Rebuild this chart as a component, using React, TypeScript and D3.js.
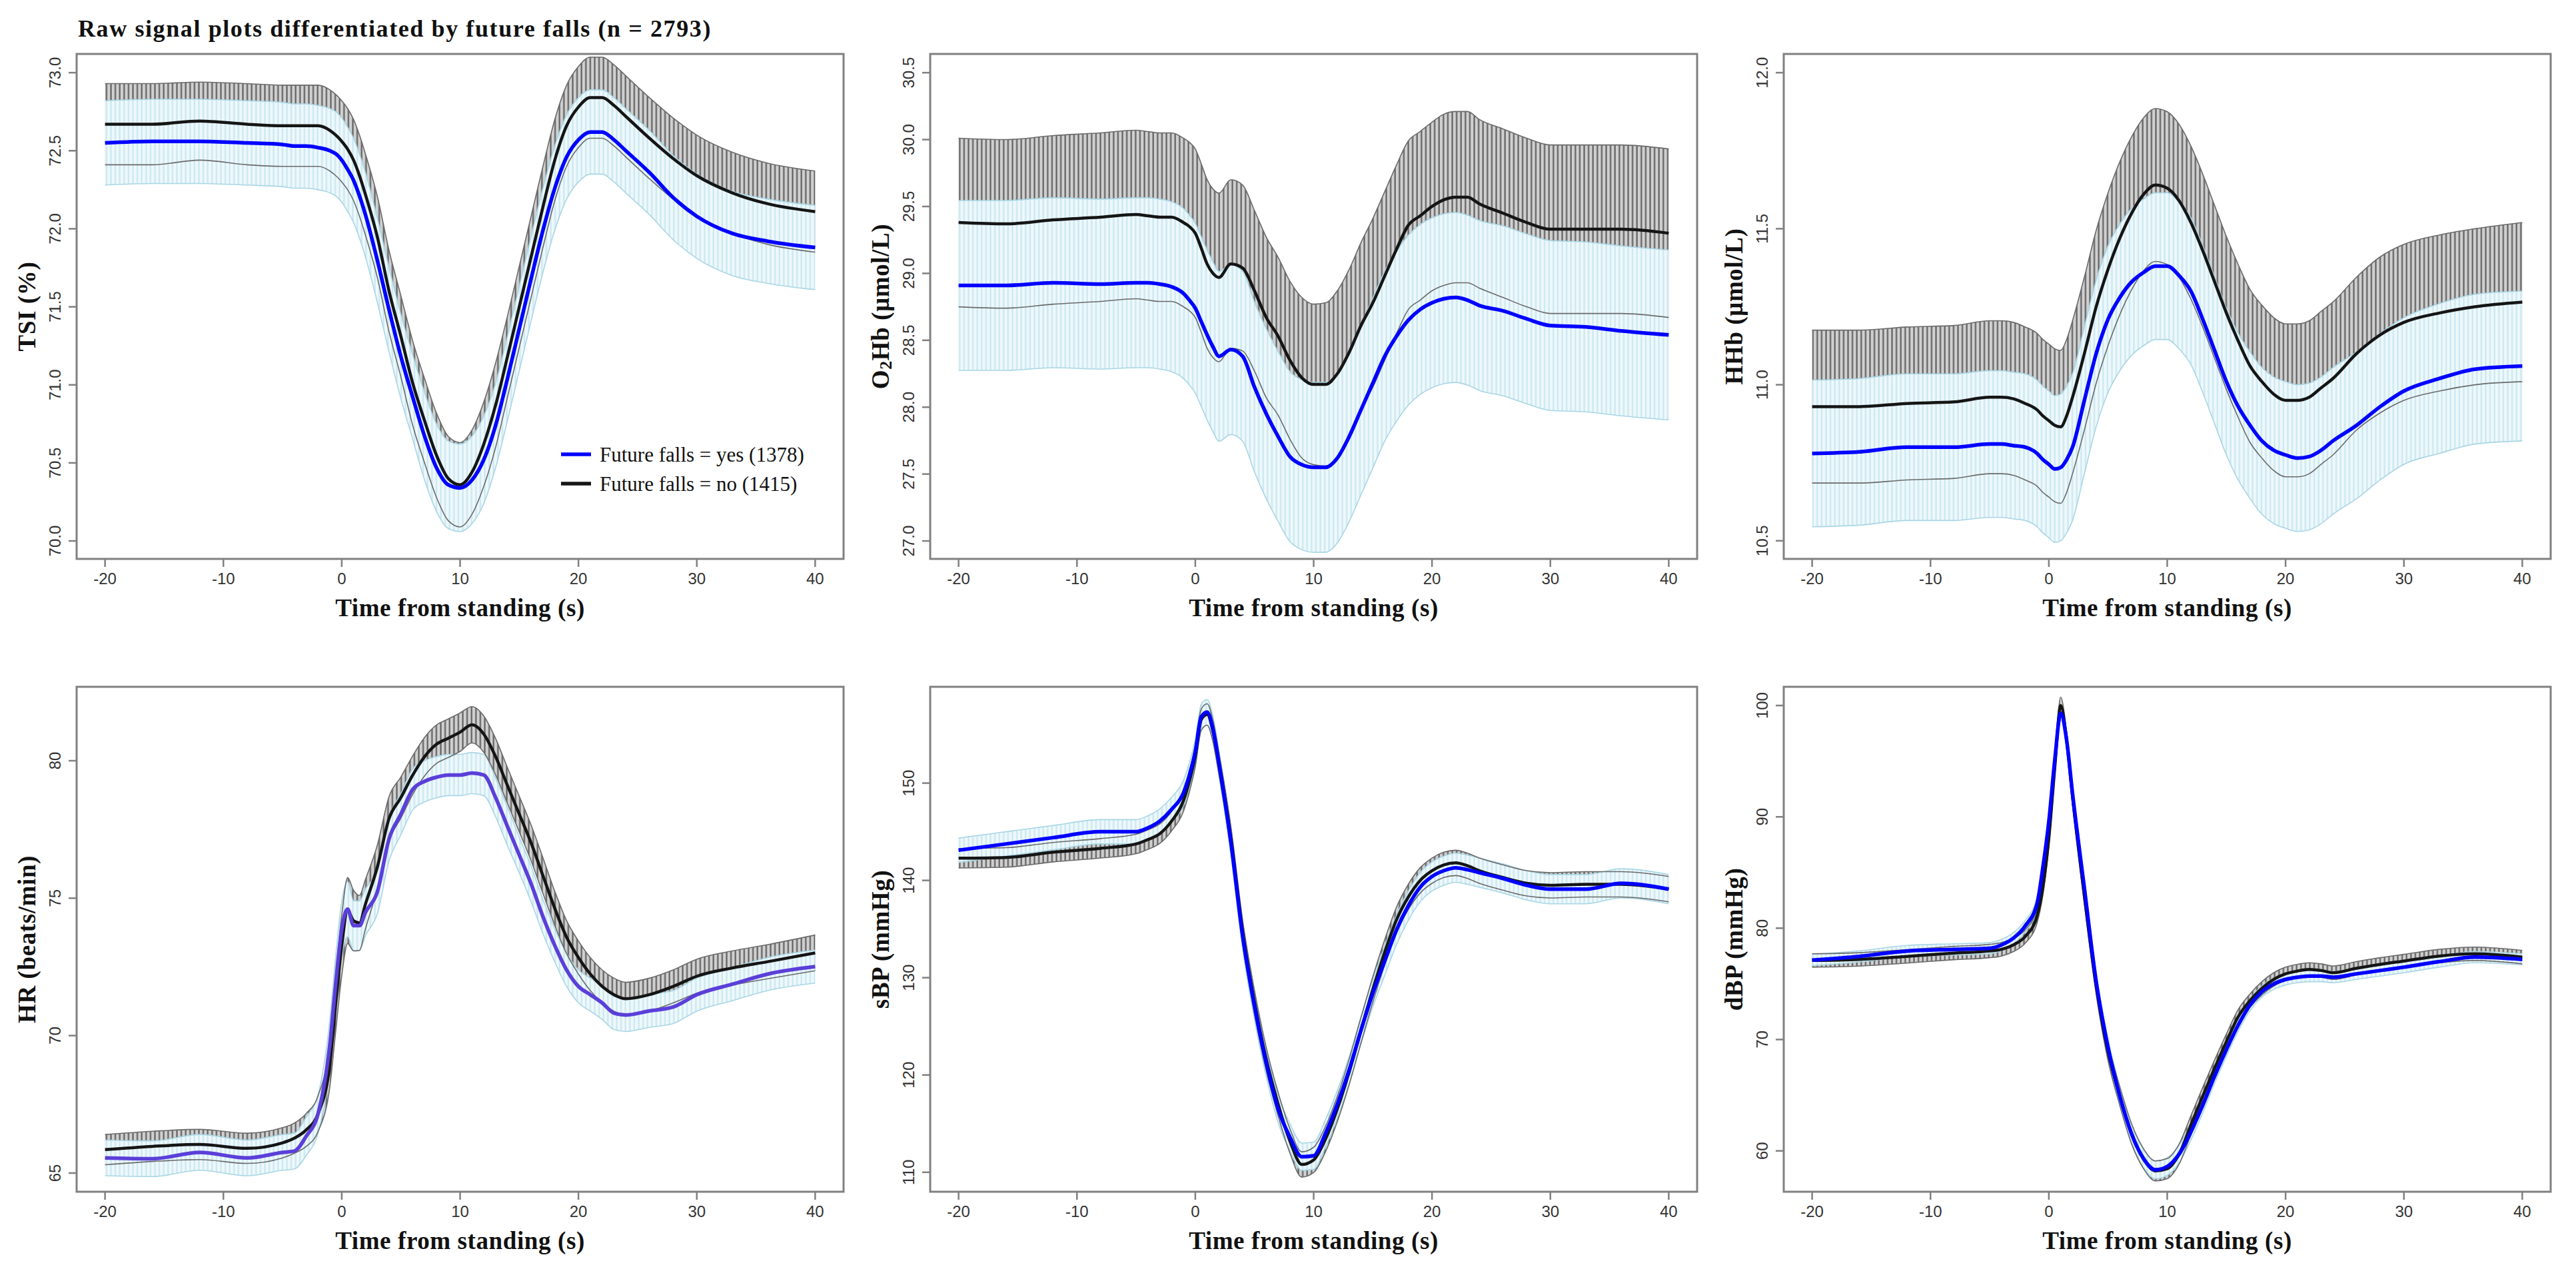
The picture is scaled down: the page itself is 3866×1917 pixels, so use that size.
import * as d3 from 'd3';
import { useEffect, useRef } from 'react';

// shared time grid (s from standing)
const time = [-20, -16, -12, -8, -5, -4, -3, -2, -1, -0.5, 0, 0.5, 1, 1.5, 2, 3, 4, 5, 6, 7, 8, 9, 10, 11, 12, 13, 14, 15, 16, 17, 18, 19, 20, 21, 22, 23, 24, 26, 28, 30, 33, 36, 40];
const xTicks = [-20, -10, 0, 10, 20, 30, 40];

// TSI (%)
const tsiNo = [72.67, 72.67, 72.69, 72.67, 72.66, 72.66, 72.66, 72.66, 72.63, 72.6, 72.56, 72.51, 72.44, 72.34, 72.22, 71.95, 71.6, 71.31, 71.01, 70.77, 70.55, 70.4, 70.36, 70.44, 70.62, 70.87, 71.18, 71.5, 71.82, 72.14, 72.44, 72.66, 72.78, 72.84, 72.84, 72.79, 72.72, 72.58, 72.45, 72.34, 72.23, 72.16, 72.11];
const tsiNoHw = [0.26, 0.26, 0.25, 0.26, 0.26, 0.26, 0.26, 0.26, 0.26, 0.26, 0.26, 0.26, 0.26, 0.26, 0.26, 0.26, 0.26, 0.26, 0.27, 0.27, 0.27, 0.27, 0.27, 0.27, 0.27, 0.27, 0.26, 0.26, 0.26, 0.26, 0.26, 0.26, 0.26, 0.26, 0.26, 0.26, 0.26, 0.26, 0.26, 0.26, 0.26, 0.26, 0.26];
const tsiYes = [72.55, 72.56, 72.56, 72.55, 72.54, 72.53, 72.53, 72.52, 72.5, 72.48, 72.44, 72.38, 72.31, 72.21, 72.09, 71.8, 71.48, 71.18, 70.92, 70.67, 70.47, 70.36, 70.34, 70.39, 70.52, 70.74, 71.04, 71.36, 71.68, 71.99, 72.26, 72.46, 72.57, 72.62, 72.62, 72.57, 72.5, 72.36, 72.2, 72.08, 71.97, 71.92, 71.88];
const tsiYesHw = [0.27, 0.27, 0.27, 0.27, 0.27, 0.27, 0.27, 0.27, 0.27, 0.27, 0.27, 0.27, 0.27, 0.27, 0.27, 0.27, 0.27, 0.27, 0.27, 0.28, 0.28, 0.28, 0.28, 0.28, 0.28, 0.27, 0.27, 0.27, 0.27, 0.27, 0.27, 0.27, 0.27, 0.27, 0.27, 0.27, 0.27, 0.27, 0.27, 0.27, 0.27, 0.27, 0.27];

// O2Hb (umol/L)
const o2No = [29.38, 29.37, 29.4, 29.42, 29.44, 29.43, 29.42, 29.42, 29.38, 29.35, 29.3, 29.19, 29.07, 29.0, 28.97, 29.07, 29.04, 28.87, 28.67, 28.53, 28.35, 28.22, 28.17, 28.17, 28.25, 28.41, 28.61, 28.78, 28.98, 29.18, 29.36, 29.43, 29.5, 29.55, 29.57, 29.57, 29.52, 29.45, 29.38, 29.33, 29.33, 29.33, 29.3];
const o2NoHw = [0.63, 0.63, 0.63, 0.63, 0.63, 0.63, 0.63, 0.63, 0.63, 0.63, 0.63, 0.63, 0.63, 0.63, 0.63, 0.63, 0.62, 0.6, 0.6, 0.59, 0.59, 0.6, 0.6, 0.61, 0.62, 0.62, 0.62, 0.63, 0.63, 0.63, 0.63, 0.63, 0.63, 0.64, 0.64, 0.64, 0.63, 0.63, 0.63, 0.63, 0.63, 0.63, 0.63];
const o2Yes = [28.91, 28.91, 28.93, 28.92, 28.93, 28.93, 28.92, 28.9, 28.85, 28.8, 28.74, 28.64, 28.54, 28.45, 28.38, 28.43, 28.38, 28.15, 27.95, 27.78, 27.63, 27.57, 27.55, 27.55, 27.62, 27.78, 27.98, 28.18, 28.38, 28.53, 28.65, 28.73, 28.78, 28.81, 28.82, 28.8, 28.76, 28.72, 28.66, 28.61, 28.6, 28.57, 28.54];
const o2YesHw = [0.635, 0.635, 0.635, 0.635, 0.635, 0.635, 0.635, 0.635, 0.635, 0.635, 0.635, 0.635, 0.635, 0.635, 0.635, 0.635, 0.635, 0.635, 0.635, 0.635, 0.635, 0.635, 0.635, 0.635, 0.635, 0.635, 0.635, 0.635, 0.635, 0.635, 0.635, 0.635, 0.635, 0.635, 0.635, 0.635, 0.635, 0.635, 0.635, 0.635, 0.635, 0.635, 0.635];

// HHb (umol/L)
const hhbNo = [10.93, 10.93, 10.94, 10.945, 10.96, 10.96, 10.955, 10.94, 10.92, 10.9, 10.885, 10.87, 10.865, 10.9, 10.96, 11.1, 11.25, 11.37, 11.47, 11.55, 11.61, 11.64, 11.63, 11.59, 11.52, 11.43, 11.33, 11.23, 11.14, 11.06, 11.01, 10.97, 10.95, 10.95, 10.96, 10.99, 11.02, 11.1, 11.16, 11.2, 11.23, 11.25, 11.265];
const hhbNoHw = [0.245, 0.245, 0.245, 0.245, 0.245, 0.245, 0.245, 0.245, 0.245, 0.245, 0.245, 0.245, 0.245, 0.245, 0.245, 0.245, 0.245, 0.245, 0.245, 0.245, 0.245, 0.245, 0.245, 0.245, 0.245, 0.245, 0.245, 0.245, 0.245, 0.245, 0.245, 0.245, 0.245, 0.245, 0.245, 0.245, 0.245, 0.245, 0.25, 0.25, 0.25, 0.25, 0.255];
const hhbYes = [10.78, 10.785, 10.8, 10.8, 10.81, 10.81, 10.805, 10.8, 10.78, 10.76, 10.745, 10.73, 10.735, 10.76, 10.8, 10.95, 11.1, 11.21, 11.28, 11.33, 11.36, 11.38, 11.38, 11.35, 11.3, 11.21, 11.11, 11.01, 10.93, 10.87, 10.82, 10.79, 10.775, 10.765, 10.77, 10.79, 10.82, 10.87, 10.93, 10.98, 11.02, 11.05, 11.06];
const hhbYesHw = [0.235, 0.235, 0.235, 0.235, 0.235, 0.235, 0.235, 0.235, 0.235, 0.235, 0.235, 0.235, 0.235, 0.235, 0.235, 0.235, 0.235, 0.235, 0.235, 0.235, 0.235, 0.235, 0.235, 0.235, 0.235, 0.235, 0.235, 0.235, 0.235, 0.235, 0.235, 0.235, 0.235, 0.235, 0.235, 0.235, 0.235, 0.235, 0.235, 0.235, 0.24, 0.24, 0.24];

// HR (beats/min)
const hrNo = [65.85, 65.97, 66.04, 65.9, 66.1, 66.27, 66.57, 67.16, 68.96, 71.2, 73.28, 74.55, 74.18, 74.1, 74.78, 76.12, 77.9, 78.66, 79.48, 80.15, 80.6, 80.82, 81.04, 81.31, 80.97, 80.15, 79.1, 78.06, 77.01, 75.82, 74.63, 73.58, 72.84, 72.24, 71.79, 71.49, 71.34, 71.49, 71.79, 72.16, 72.46, 72.69, 73.01];
const hrNoHw = [0.55, 0.55, 0.55, 0.55, 0.55, 0.55, 0.6, 0.65, 0.8, 1.0, 1.1, 1.2, 1.1, 1.0, 0.9, 0.8, 0.8, 0.75, 0.7, 0.7, 0.7, 0.7, 0.7, 0.66, 0.66, 0.66, 0.65, 0.65, 0.65, 0.65, 0.62, 0.6, 0.6, 0.6, 0.6, 0.6, 0.6, 0.6, 0.6, 0.62, 0.62, 0.62, 0.65];
const hrYes = [65.55, 65.52, 65.75, 65.55, 65.75, 65.8, 66.34, 67.16, 69.7, 71.94, 73.88, 74.6, 74.0, 74.0, 74.48, 75.22, 77.16, 78.06, 78.96, 79.25, 79.4, 79.48, 79.48, 79.55, 79.48, 78.66, 77.61, 76.57, 75.52, 74.33, 73.28, 72.39, 71.79, 71.49, 71.19, 70.82, 70.75, 70.9, 71.04, 71.49, 71.87, 72.24, 72.51];
const hrYesHw = [0.65, 0.65, 0.65, 0.65, 0.65, 0.65, 0.7, 0.7, 0.9, 1.0, 1.0, 1.0, 0.9, 0.9, 0.85, 0.8, 0.8, 0.75, 0.75, 0.75, 0.75, 0.75, 0.75, 0.75, 0.75, 0.7, 0.7, 0.65, 0.65, 0.62, 0.6, 0.6, 0.6, 0.6, 0.6, 0.6, 0.6, 0.6, 0.6, 0.6, 0.6, 0.6, 0.6];

// sBP (mmHg)
const sbpNo = [142.28, 142.36, 142.9, 143.3, 143.75, 144.2, 144.8, 146.1, 148.2, 150.2, 152.8, 156.5, 157.05, 155.3, 152.0, 144.4, 134.7, 127.5, 121.6, 117.0, 113.2, 110.8, 111.27, 113.4, 116.5, 120.3, 124.6, 128.8, 132.6, 135.95, 138.3, 140.0, 141.0, 141.6, 141.8, 141.5, 141.0, 140.3, 139.7, 139.5, 139.6, 139.6, 139.1];
const sbpNoHw = [1.0, 1.0, 1.0, 1.0, 1.0, 1.0, 1.0, 1.0, 1.1, 1.1, 1.1, 1.1, 1.1, 1.1, 1.1, 1.2, 1.2, 1.2, 1.2, 1.2, 1.25, 1.3, 1.3, 1.3, 1.3, 1.3, 1.3, 1.3, 1.3, 1.3, 1.3, 1.3, 1.3, 1.3, 1.3, 1.3, 1.3, 1.3, 1.3, 1.3, 1.3, 1.3, 1.3];
const sbpYes = [143.1, 143.75, 144.4, 145.0, 145.0, 145.4, 146.1, 147.3, 149.0, 150.8, 153.2, 156.8, 157.3, 155.5, 152.0, 144.0, 134.3, 127.1, 121.2, 116.5, 113.6, 111.6, 111.7, 114.0, 117.0, 120.5, 124.6, 128.4, 131.7, 134.9, 137.4, 139.3, 140.4, 141.0, 141.3, 141.1, 140.8, 140.2, 139.5, 139.1, 139.1, 139.7, 139.1];
const sbpYesHw = [1.25, 1.25, 1.25, 1.25, 1.25, 1.25, 1.25, 1.25, 1.3, 1.3, 1.3, 1.3, 1.3, 1.3, 1.3, 1.4, 1.4, 1.4, 1.4, 1.4, 1.4, 1.4, 1.4, 1.4, 1.4, 1.4, 1.4, 1.4, 1.5, 1.5, 1.5, 1.5, 1.5, 1.5, 1.5, 1.5, 1.5, 1.5, 1.5, 1.5, 1.5, 1.5, 1.5];

// dBP (mmHg)
const dbpNo = [77.1, 77.2, 77.47, 77.77, 77.95, 78.1, 78.5, 79.25, 81.1, 83.7, 88.1, 94.4, 100.0, 96.9, 91.8, 82.9, 74.8, 68.9, 64.9, 61.5, 59.3, 58.2, 58.4, 59.7, 62.3, 64.9, 67.4, 69.8, 72.05, 73.5, 74.6, 75.4, 75.9, 76.15, 76.3, 76.2, 76.0, 76.4, 76.75, 77.05, 77.5, 77.7, 77.4];
const dbpNoHw = [0.6, 0.6, 0.6, 0.6, 0.6, 0.6, 0.6, 0.6, 0.65, 0.7, 0.7, 0.7, 0.75, 0.7, 0.7, 0.7, 0.75, 0.8, 0.85, 0.9, 0.9, 0.9, 0.9, 0.9, 0.85, 0.8, 0.75, 0.7, 0.65, 0.6, 0.6, 0.6, 0.6, 0.6, 0.6, 0.6, 0.6, 0.6, 0.6, 0.6, 0.6, 0.6, 0.6];
const dbpYes = [77.14, 77.47, 77.95, 78.1, 78.2, 78.5, 79.1, 80.2, 82.2, 85.5, 89.6, 95.1, 99.3, 96.9, 92.1, 83.6, 75.2, 69.3, 64.9, 61.5, 59.3, 58.3, 58.6, 59.7, 61.7, 64.1, 66.7, 69.1, 71.3, 73.1, 74.3, 75.0, 75.4, 75.6, 75.7, 75.7, 75.6, 75.9, 76.2, 76.5, 77.0, 77.4, 77.2];
const dbpYesHw = [0.5, 0.5, 0.5, 0.5, 0.5, 0.5, 0.5, 0.5, 0.55, 0.6, 0.6, 0.6, 0.6, 0.6, 0.6, 0.65, 0.7, 0.75, 0.8, 0.8, 0.8, 0.8, 0.8, 0.8, 0.75, 0.7, 0.65, 0.6, 0.55, 0.5, 0.5, 0.5, 0.5, 0.5, 0.5, 0.5, 0.5, 0.5, 0.5, 0.5, 0.5, 0.5, 0.5];

const legendLabels = ['Future falls = yes (1378)', 'Future falls = no (1415)'];

interface Panel {
  label: string[];
  yTicks: number[];
  yDomain: [number, number];
  decimals: number;
  no: number[];
  noHw: number[];
  yes: number[];
  yesHw: number[];
  yesColor: string;
}

const panels: Panel[] = [
  { label: ['TSI (%)'], yTicks: [70, 70.5, 71, 71.5, 72, 72.5, 73], yDomain: [69.885, 73.12], decimals: 1, no: tsiNo, noHw: tsiNoHw, yes: tsiYes, yesHw: tsiYesHw, yesColor: '#0000ff' },
  { label: ['O', '2', 'Hb (\u03bcmol/L)'], yTicks: [27, 27.5, 28, 28.5, 29, 29.5, 30, 30.5], yDomain: [26.866, 30.64], decimals: 1, no: o2No, noHw: o2NoHw, yes: o2Yes, yesHw: o2YesHw, yesColor: '#0000ff' },
  { label: ['HHb (\u03bcmol/L)'], yTicks: [10.5, 11, 11.5, 12], yDomain: [10.442, 12.06], decimals: 1, no: hhbNo, noHw: hhbNoHw, yes: hhbYes, yesHw: hhbYesHw, yesColor: '#0000ff' },
  { label: ['HR (beats/min)'], yTicks: [65, 70, 75, 80], yDomain: [64.32, 82.69], decimals: 0, no: hrNo, noHw: hrNoHw, yes: hrYes, yesHw: hrYesHw, yesColor: '#5b3fd9' },
  { label: ['sBP (mmHg)'], yTicks: [110, 120, 130, 140, 150], yDomain: [108.0, 159.9], decimals: 0, no: sbpNo, noHw: sbpNoHw, yes: sbpYes, yesHw: sbpYesHw, yesColor: '#0000ff' },
  { label: ['dBP (mmHg)'], yTicks: [60, 70, 80, 90, 100], yDomain: [56.33, 101.68], decimals: 0, no: dbpNo, noHw: dbpNoHw, yes: dbpYes, yesHw: dbpYesHw, yesColor: '#0000ff' }
];

const WIDTH = 3866;
const HEIGHT = 1917;
const PANEL_W = 1151;
const PANEL_H = 758;
const LEFTS = [115, 1396, 2677];
const TOPS = [81, 1031];
const SERIF = "'Liberation Serif', 'Times New Roman', serif";
const SANS = "'Liberation Sans', Arial, sans-serif";
const AXIS_GREY = '#808080';

const App = () => {
  const ref = useRef<SVGSVGElement | null>(null);

  useEffect(() => {
    if (!ref.current) return;
    const svg = d3.select(ref.current);
    svg.selectAll('*').remove();

    const defs = svg.append('defs');
    const hatch = (id: string, bg: string, fg: string) => {
      const p = defs
        .append('pattern')
        .attr('id', id)
        .attr('patternUnits', 'userSpaceOnUse')
        .attr('width', 6.6)
        .attr('height', 20);
      p.append('rect').attr('width', 6.6).attr('height', 20).attr('fill', bg);
      p.append('rect').attr('x', 0.4).attr('width', 2.2).attr('height', 20).attr('fill', fg);
    };
    hatch('hatch-no', '#d0d0d0', '#606060');
    hatch('hatch-yes', '#eef8fb', '#cae7f1');

    svg
      .append('text')
      .attr('x', 117)
      .attr('y', 55)
      .attr('font-family', SERIF)
      .attr('font-weight', 'bold')
      .attr('font-size', 36)
      .attr('letter-spacing', 1.6)
      .attr('fill', '#111')
      .text('Raw signal plots differentiated by future falls (n = 2793)');

    panels.forEach((p, i) => {
      const left = LEFTS[i % 3];
      const top = TOPS[Math.floor(i / 3)];
      const x = d3.scaleLinear().domain([-22.4, 42.4]).range([left, left + PANEL_W]);
      const y = d3.scaleLinear().domain(p.yDomain).range([top + PANEL_H, top]);

      const g = svg.append('g');
      const clipId = `clip-${i}`;
      defs
        .append('clipPath')
        .attr('id', clipId)
        .append('rect')
        .attr('x', left)
        .attr('y', top)
        .attr('width', PANEL_W)
        .attr('height', PANEL_H);
      const plot = g.append('g').attr('clip-path', `url(#${clipId})`);

      const band = (m: number[], hw: number[]) =>
        d3
          .area<number>()
          .x((_, k) => x(time[k]))
          .y0((_, k) => y(m[k] - hw[k]))
          .y1((_, k) => y(m[k] + hw[k]))
          .curve(d3.curveMonotoneX)(m);
      const edge = (m: number[], hw: number[], sign: number) =>
        d3
          .line<number>()
          .x((_, k) => x(time[k]))
          .y((_, k) => y(m[k] + sign * hw[k]))
          .curve(d3.curveMonotoneX)(m);
      const mean = (m: number[]) =>
        d3
          .line<number>()
          .x((_, k) => x(time[k]))
          .y(d => y(d))
          .curve(d3.curveMonotoneX)(m);

      plot.append('path').attr('d', band(p.no, p.noHw)).attr('fill', 'url(#hatch-no)');
      plot.append('path').attr('d', band(p.yes, p.yesHw)).attr('fill', 'url(#hatch-yes)');
      [1, -1].forEach(s => {
        plot
          .append('path')
          .attr('d', edge(p.yes, p.yesHw, s))
          .attr('fill', 'none')
          .attr('stroke', '#a9d6e5')
          .attr('stroke-width', 1.6);
      });
      [1, -1].forEach(s => {
        plot
          .append('path')
          .attr('d', edge(p.no, p.noHw, s))
          .attr('fill', 'none')
          .attr('stroke', '#6a6a6a')
          .attr('stroke-width', 1.6);
      });
      plot
        .append('path')
        .attr('d', mean(p.no))
        .attr('fill', 'none')
        .attr('stroke', '#151515')
        .attr('stroke-width', 4.5)
        .attr('stroke-linejoin', 'round');
      plot
        .append('path')
        .attr('d', mean(p.yes))
        .attr('fill', 'none')
        .attr('stroke', p.yesColor)
        .attr('stroke-width', 5.5)
        .attr('stroke-linejoin', 'round');

      // box
      g.append('rect')
        .attr('x', left)
        .attr('y', top)
        .attr('width', PANEL_W)
        .attr('height', PANEL_H)
        .attr('fill', 'none')
        .attr('stroke', AXIS_GREY)
        .attr('stroke-width', 3);

      // x axis
      const bottom = top + PANEL_H;
      xTicks.forEach(t => {
        g.append('line')
          .attr('x1', x(t))
          .attr('x2', x(t))
          .attr('y1', bottom)
          .attr('y2', bottom + 12)
          .attr('stroke', AXIS_GREY)
          .attr('stroke-width', 2.5);
        g.append('text')
          .attr('x', x(t))
          .attr('y', bottom + 38)
          .attr('text-anchor', 'middle')
          .attr('font-family', SANS)
          .attr('font-size', 24)
          .attr('fill', '#333')
          .text(String(t));
      });
      g.append('text')
        .attr('x', left + PANEL_W / 2)
        .attr('y', bottom + 86)
        .attr('text-anchor', 'middle')
        .attr('font-family', SERIF)
        .attr('font-weight', 'bold')
        .attr('font-size', 37)
        .attr('letter-spacing', 0.6)
        .attr('fill', '#111')
        .text('Time from standing (s)');

      // y axis
      p.yTicks.forEach(v => {
        g.append('line')
          .attr('x1', left - 12)
          .attr('x2', left)
          .attr('y1', y(v))
          .attr('y2', y(v))
          .attr('stroke', AXIS_GREY)
          .attr('stroke-width', 2.5);
        g.append('text')
          .attr('transform', `translate(${left - 24},${y(v)}) rotate(-90)`)
          .attr('text-anchor', 'middle')
          .attr('font-family', SANS)
          .attr('font-size', 24)
          .attr('fill', '#333')
          .text(v.toFixed(p.decimals));
      });
      const yl = g
        .append('text')
        .attr('transform', `translate(${left - 62},${top + PANEL_H / 2}) rotate(-90)`)
        .attr('text-anchor', 'middle')
        .attr('font-family', SERIF)
        .attr('font-weight', 'bold')
        .attr('font-size', 37)
        .attr('letter-spacing', 0.6)
        .attr('fill', '#111');
      if (p.label.length === 3) {
        yl.append('tspan').text(p.label[0]);
        yl.append('tspan').attr('font-size', 26).attr('dy', 4).text(p.label[1]);
        yl.append('tspan').attr('dy', -4).text(p.label[2]);
      } else {
        yl.text(p.label[0]);
      }

      // legend in first panel
      if (i === 0) {
        const colors = [p.yesColor, '#151515'];
        legendLabels.forEach((lab, k) => {
          const ly = 682 + k * 44;
          g.append('line')
            .attr('x1', 842)
            .attr('x2', 887)
            .attr('y1', ly)
            .attr('y2', ly)
            .attr('stroke', colors[k])
            .attr('stroke-width', 5.5);
          g.append('text')
            .attr('x', 900)
            .attr('y', ly)
            .attr('dy', '0.35em')
            .attr('font-family', SERIF)
            .attr('font-size', 31)
            .attr('fill', '#111')
            .text(lab);
        });
      }
    });
  }, []);

  return (
    <svg
      ref={ref}
      width={WIDTH}
      height={HEIGHT}
      style={{ position: 'absolute', left: 0, top: 0, background: '#fff' }}
    />
  );
};

export default App;
